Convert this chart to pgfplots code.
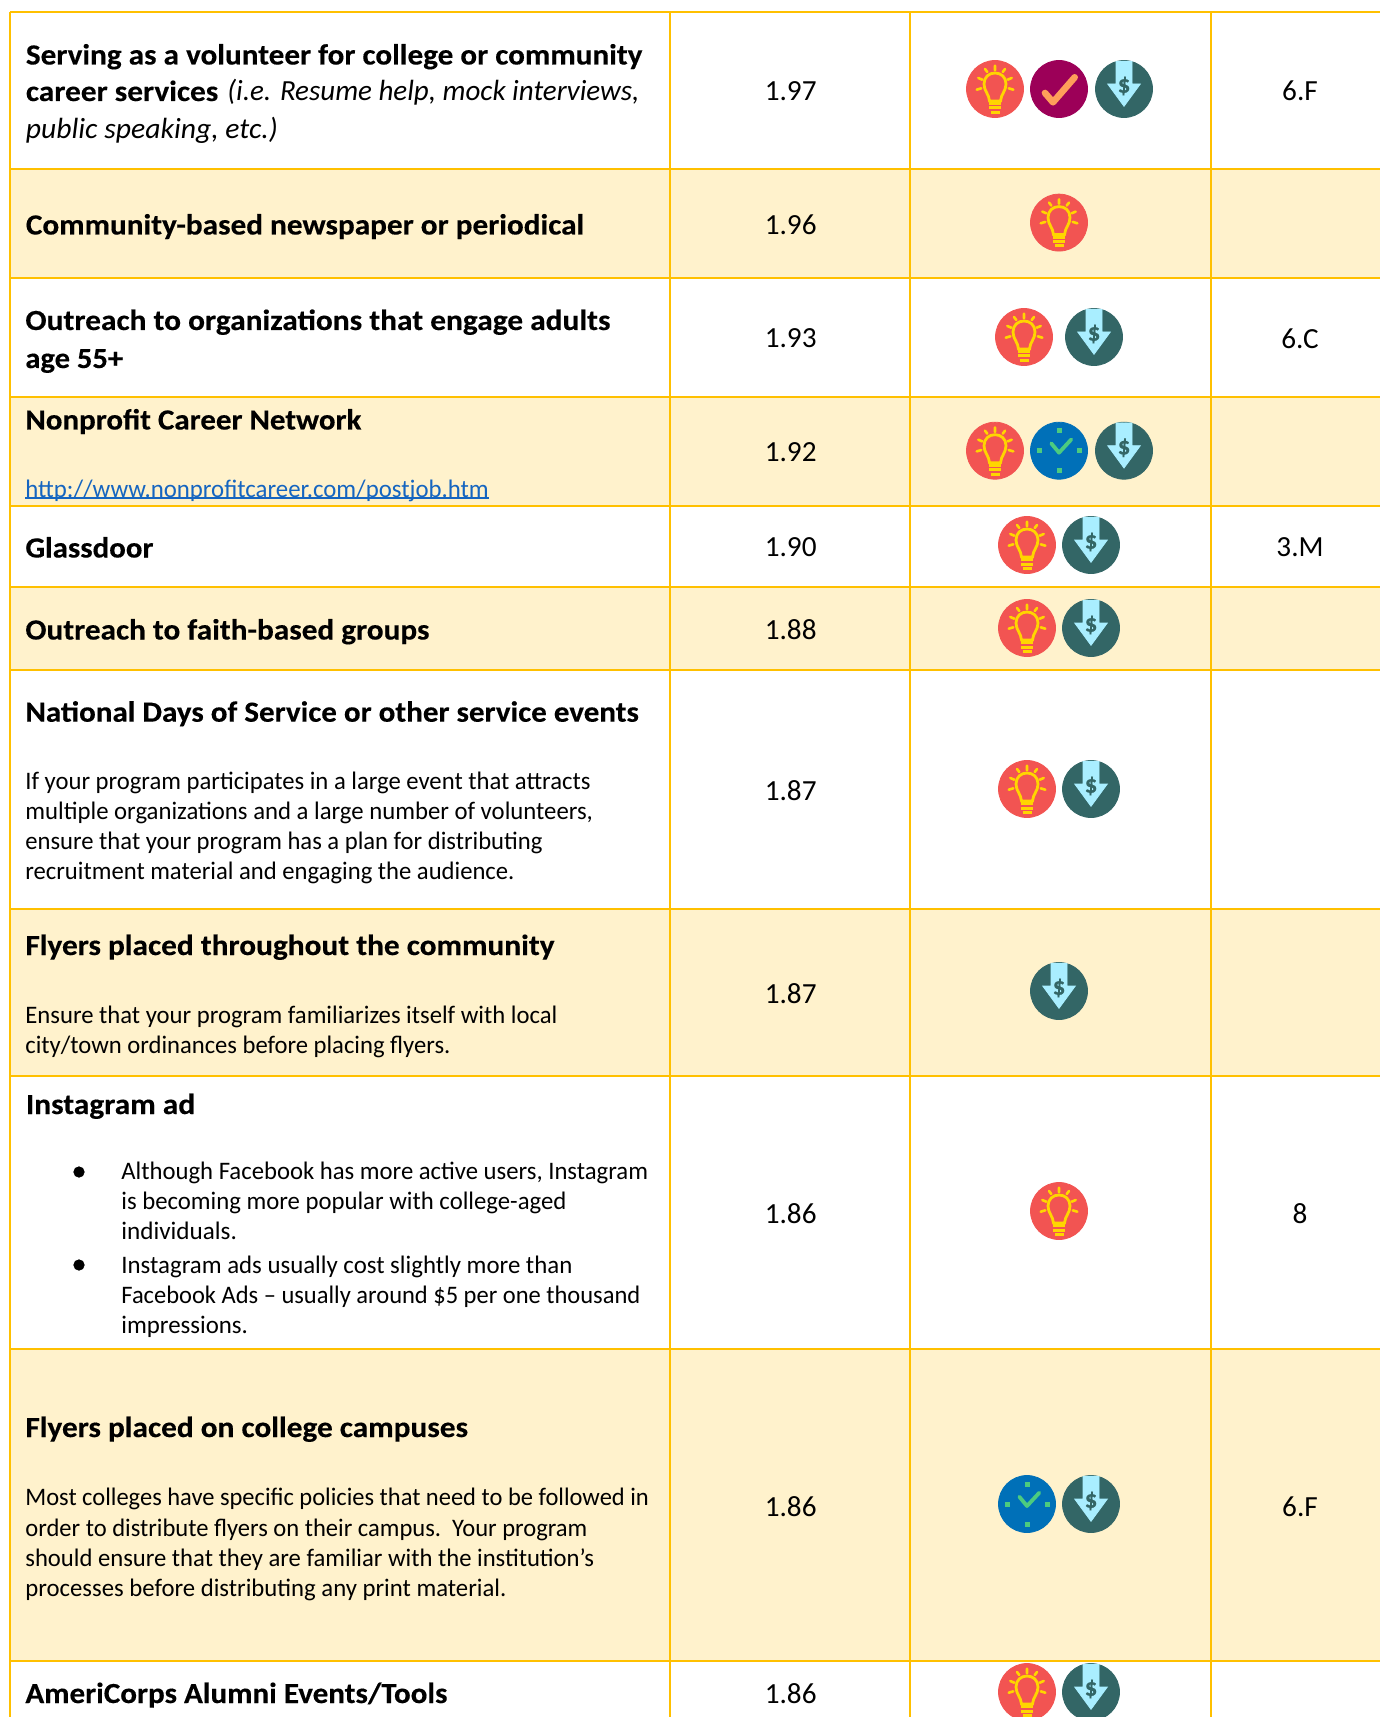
\documentclass[border=0pt]{standalone}
\usepackage{fontspec}
\usepackage{pgfplots}
\usepackage{graphicx}
\pgfplotsset{compat=1.18}
\setmainfont{Carlito}[BoldFeatures={FakeBold=0.3}]
\definecolor{gridy}{HTML}{FFC000}
\definecolor{rowy}{HTML}{FFF2CC}
\definecolor{ired}{HTML}{F25452}
\definecolor{iyel}{HTML}{FFD500}
\definecolor{imar}{HTML}{9C0058}
\definecolor{iora}{HTML}{FF9E5A}
\definecolor{iteal}{HTML}{336666}
\definecolor{iblue}{HTML}{A9EEFF}
\definecolor{cblue}{HTML}{0070B8}
\definecolor{cgreen}{HTML}{4CCB7F}
\definecolor{linkb}{HTML}{1565C0}
\pgfdeclareplotmark{bulb}{%
 \begin{scope}[x=.5pt,y=-.5pt]
  \fill[ired] (0,0) circle (28.5);
  \draw[iyel,line width=1.4pt] (-5.5,12) .. controls (-6,5) and (-11,2) .. (-11,-5) .. controls (-11,-12) and (-6,-16) .. (0,-16) .. controls (6,-16) and (11,-12) .. (11,-5) .. controls (11,2) and (6,5) .. (5.5,12) -- cycle;
  \draw[iyel,line width=1.5pt] (-6,14.5)--(6,14.5) (-6,19)--(6,19);
  \draw[iyel,line width=1.5pt] (-4.5,23.3)--(4.5,23.3);
  \draw[iyel,line width=1.3pt,line cap=round] (0,-23.3)--(0,-18.7) (-10,-20)--(-7.7,-17) (10,-20)--(7.7,-17) (-16.7,-11)--(-12.7,-9.3) (16.7,-11)--(12.7,-9.3) (-18.3,.7)--(-13.7,-.7) (18.3,.7)--(13.7,-.7);
 \end{scope}}
\pgfdeclareplotmark{check}{%
 \begin{scope}[x=.5pt,y=-.5pt]
  \fill[imar] (0,0) circle (28.5);
  \draw[iora,line width=3.3pt,line cap=round,line join=round] (-14,4)--(-6,13.3)--(15.7,-11.7);
 \end{scope}}
\pgfdeclareplotmark{clock}{%
 \begin{scope}[x=.5pt,y=-.5pt]
  \fill[cblue] (0,0) circle (28.5);
  \fill[cgreen] (-1.9,-21.9) rectangle (1.9,-18.1) (-1.9,18.1) rectangle (1.9,21.9) (-21.9,-1.9) rectangle (-18.1,1.9) (18.1,-1.9) rectangle (21.9,1.9);
  \draw[cgreen,line width=1.9pt,line cap=round,line join=round] (-7.7,-7.3)--(0,2)--(12.3,-11.3);
 \end{scope}}
\pgfdeclareplotmark{dollar}{%
 \begin{scope}[x=.5pt,y=-.5pt]
  \fill[iteal] (0,0) circle (28.5);
  \fill[iblue] (-8,-27.8)--(8,-27.8)--(8,-5)--(16.3,-5)--(0,17.3)--(-16.3,-5)--(-8,-5)--cycle;
  \node[iteal,inner sep=0pt,font=\fontsize{12.5}{13}\selectfont\bfseries] at (0,-3) {\$};
 \end{scope}}
% one line of text, with left end, baseline and right end in reference pixels
\newcommand\tl[5]{\node[anchor=base west,inner sep=0pt,text=black] at (axis cs:#1,#2) {\resizebox{\dimexpr(#3pt - #1pt)*1/2\relax}{\height}{#4#5}};}
\newcommand\hd{\fontsize{14.6}{17}\selectfont\bfseries}
\newcommand\bd{\fontsize{12.6}{15}\selectfont}
\newcommand\itl{\fontsize{14.6}{17}\selectfont\itshape}
\newsavebox\ulbox
\newcommand\ul[1]{\sbox\ulbox{#1}\rlap{\rule[-1.1pt]{\wd\ulbox}{0.9pt}}\usebox\ulbox}
\begin{document}
\begin{tikzpicture}
\begin{axis}[at={(0pt,0pt)},anchor=south west,width=690pt,height=858.5pt,scale only axis,
  hide axis,xmin=0,xmax=1380,ymin=0,ymax=1717,y dir=reverse,clip=true,unbounded coords=jump]
% shaded rows
\addplot[draw=none,fill=rowy] coordinates {(10,169)(1380,169)(1380,278)(10,278)} -- cycle;
\addplot[draw=none,fill=rowy] coordinates {(10,397)(1380,397)(1380,506)(10,506)} -- cycle;
\addplot[draw=none,fill=rowy] coordinates {(10,587)(1380,587)(1380,669.5)(10,669.5)} -- cycle;
\addplot[draw=none,fill=rowy] coordinates {(10,909)(1380,909)(1380,1076)(10,1076)} -- cycle;
\addplot[draw=none,fill=rowy] coordinates {(10,1349)(1380,1349)(1380,1661)(10,1661)} -- cycle;
% rules
\addplot[gridy,line width=1pt,mark=none] coordinates {
 (10,12)(1380,12) (nan,nan) (10,169)(1380,169) (nan,nan) (10,278)(1380,278) (nan,nan)
 (10,397)(1380,397) (nan,nan) (10,506)(1380,506) (nan,nan) (10,587)(1380,587) (nan,nan)
 (10,669.5)(1380,669.5) (nan,nan) (10,909)(1380,909) (nan,nan) (10,1076)(1380,1076) (nan,nan)
 (10,1349)(1380,1349) (nan,nan) (10,1661)(1380,1661) (nan,nan)
 (10,12)(10,1717) (nan,nan) (670,12)(670,1717) (nan,nan) (910,12)(910,1717) (nan,nan) (1211,12)(1211,1717)};
% icons
\addplot[only marks,mark=bulb] coordinates {(995,89)(1059,222.6)(1024,337)(995,450.7)(1027,545)(1027,628)(1027,789)(1059,1211)(1027,1692)};
\addplot[only marks,mark=check] coordinates {(1059,89)};
\addplot[only marks,mark=clock] coordinates {(1059,450.7)(1027,1504)};
\addplot[only marks,mark=dollar] coordinates {(1124,89)(1094,337)(1124,450.7)(1091,545)(1091,628)(1091,789)(1059,991)(1091,1504)(1091,1692)};
% scores and codes
\addplot[only marks,mark=none,point meta=explicit symbolic,
  nodes near coords,nodes near coords style={anchor=center,inner sep=0pt,text=black,font=\fontsize{14.6}{17}\selectfont}]
 table[meta=m] {
x y m
790.7 91 1.97
790.7 224.5 1.96
790.7 338.4 1.93
790.7 452 1.92
790.7 547.6 1.90
790.7 630 1.88
790.7 791 1.87
790.7 994 1.87
790.7 1213.5 1.86
790.7 1507 1.86
790.7 1694 1.86
1300 91 6.F
1300 338.4 6.C
1300 547.6 3.M
1300 1213.5 8
1300 1507 6.F
};
% bullets
\addplot[only marks,mark=*,mark size=2.6pt,mark options={fill=black,draw=black}] coordinates {(79,1172)(79,1265)};
% text
\tl{25.5}{64.5}{642}{\hd}{Serving as a volunteer for college or community}
\tl{25.5}{101}{218}{\hd}{career services}
\tl{227}{101}{639}{\itl}{(i.e. Resume help, mock interviews,}
\tl{25.5}{138.5}{277.5}{\itl}{public speaking, etc.)}
\tl{25.5}{234.5}{583.7}{\hd}{Community-based newspaper or periodical}
\tl{25}{330}{610}{\hd}{Outreach to organizations that engage adults}
\tl{25}{368}{122.7}{\hd}{age 55+}
\tl{25}{429.5}{361}{\hd}{Nonprofit Career Network}
\tl{25}{497}{488.5}{\bd\color{linkb}}{\ul{http://www.nonprofitcareer.com/postjob.htm}}
\tl{25}{557.5}{153}{\hd}{Glassdoor}
\tl{25}{639.5}{429}{\hd}{Outreach to faith-based groups}
\tl{25}{721.7}{638.5}{\hd}{National Days of Service or other service events}
\tl{25}{789.5}{590}{\bd}{If your program participates in a large event that attracts}
\tl{25}{819.5}{592.5}{\bd}{multiple organizations and a large number of volunteers,}
\tl{25}{849.5}{542}{\bd}{ensure that your program has a plan for distributing}
\tl{25}{879.5}{514}{\bd}{recruitment material and engaging the audience.}
\tl{25}{955}{554}{\hd}{Flyers placed throughout the community}
\tl{25}{1023}{557}{\bd}{Ensure that your program familiarizes itself with local}
\tl{25}{1053}{450}{\bd}{city/town ordinances before placing flyers.}
\tl{25.5}{1114}{194.7}{\hd}{Instagram ad}
\tl{121}{1179}{647.6}{\bd}{Although Facebook has more active users, Instagram}
\tl{121}{1209}{566}{\bd}{is becoming more popular with college-aged}
\tl{121}{1239}{236.6}{\bd}{individuals.}
\tl{121}{1273}{572}{\bd}{Instagram ads usually cost slightly more than}
\tl{121}{1303}{640}{\bd}{Facebook Ads – usually around \$5 per one thousand}
\tl{121}{1333}{247.6}{\bd}{impressions.}
\tl{25}{1437}{467.6}{\hd}{Flyers placed on college campuses}
\tl{25}{1505.5}{648.5}{\bd}{Most colleges have specific policies that need to be followed in}
\tl{25}{1536}{587}{\bd}{order to distribute flyers on their campus.\ \ Your program}
\tl{25}{1566.5}{593.6}{\bd}{should ensure that they are familiar with the institution’s}
\tl{25}{1596.5}{506}{\bd}{processes before distributing any print material.}
\tl{25}{1703}{447}{\hd}{AmeriCorps Alumni Events/Tools}
\end{axis}
\pgfresetboundingbox
\path[use as bounding box] (0pt,0pt) rectangle (690pt,858.5pt);
\end{tikzpicture}
\end{document}
